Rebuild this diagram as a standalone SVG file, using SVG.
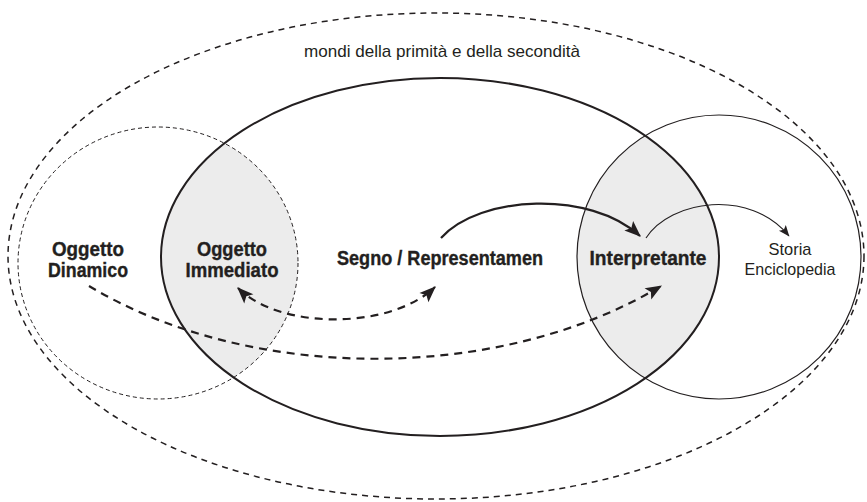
<svg xmlns="http://www.w3.org/2000/svg" width="867" height="502" viewBox="0 0 867 502">
  <style>
    .line { fill: none; stroke: #231f20; }
    .bold { font-family: "Liberation Sans", Arial, sans-serif; font-weight: bold; font-size: 19.5px; fill: #231f20; stroke: #231f20; stroke-width: 0.35; text-anchor: middle; }
    .reg { font-family: "Liberation Sans", Arial, sans-serif; font-size: 17px; fill: #231f20; text-anchor: middle; }
    .dash { fill: none; stroke: #231f20; stroke-width: 2.2; stroke-dasharray: 8 6; }
  </style>
  <defs>
    <clipPath id="clipBig">
      <ellipse cx="440" cy="257" rx="279" ry="179"/>
    </clipPath>
    <marker id="head" markerUnits="userSpaceOnUse" markerWidth="20" markerHeight="20" viewBox="-15 -8 17 16" refX="0" refY="0" orient="auto-start-reverse">
      <path d="M1,0 L-13,-5.5 L-10,0 L-13,5.5 Z" fill="#231f20"/>
    </marker>
    <marker id="headSmall" markerUnits="userSpaceOnUse" markerWidth="14" markerHeight="14" viewBox="-11 -6 12 12" refX="0" refY="0" orient="auto">
      <path d="M0.5,0 L-9,-3.8 L-7,0 L-9,3.8 Z" fill="#231f20"/>
    </marker>
  </defs>
  <rect width="867" height="502" fill="#ffffff"/>

  <g id="lens-shading" clip-path="url(#clipBig)">
    <ellipse cx="158" cy="263" rx="140" ry="136" fill="#ececec"/>
    <ellipse cx="719" cy="257" rx="142" ry="142" fill="#ececec"/>
  </g>

  <g id="mondi">
    <ellipse class="line" cx="436" cy="256" rx="428" ry="243" stroke-width="1.5" stroke-dasharray="6 5"/>
    <text class="reg" x="442" y="57" textLength="276" lengthAdjust="spacingAndGlyphs">mondi della primità e della secondità</text>
  </g>

  <g id="oggetto-dinamico">
    <ellipse class="line" cx="158" cy="263" rx="140" ry="136" stroke-width="1" stroke-dasharray="4 3"/>
    <text class="bold" x="88" y="256" textLength="72" lengthAdjust="spacingAndGlyphs">Oggetto</text>
    <text class="bold" x="88" y="277" textLength="80" lengthAdjust="spacingAndGlyphs">Dinamico</text>
  </g>

  <g id="segno">
    <ellipse class="line" cx="440" cy="257" rx="279" ry="179" stroke-width="2"/>
    <text class="bold" x="440" y="265" textLength="206" lengthAdjust="spacingAndGlyphs">Segno / Representamen</text>
  </g>

  <g id="oggetto-immediato">
    <text class="bold" x="232" y="256" textLength="70" lengthAdjust="spacingAndGlyphs">Oggetto</text>
    <text class="bold" x="232" y="277" textLength="93" lengthAdjust="spacingAndGlyphs">Immediato</text>
  </g>

  <g id="storia-enciclopedia">
    <ellipse class="line" cx="719" cy="257" rx="142" ry="142" stroke-width="1.2"/>
    <text class="reg" x="790" y="255" textLength="43" lengthAdjust="spacingAndGlyphs">Storia</text>
    <text class="reg" x="790" y="275" textLength="91" lengthAdjust="spacingAndGlyphs">Enciclopedia</text>
  </g>

  <g id="interpretante">
    <text class="bold" x="648" y="265" textLength="117" lengthAdjust="spacingAndGlyphs">Interpretante</text>
  </g>

  <g id="connectors">
    <path class="line" stroke-width="2.2" d="M441,238 C480,195 590,190 640,236" marker-end="url(#head)"/>
    <path class="line" stroke-width="1.1" d="M646,238 C670,200 750,188 789,236" marker-end="url(#headSmall)"/>
    <path class="dash" d="M238,288 C280,330 390,330 435,287" marker-start="url(#head)" marker-end="url(#head)"/>
    <path class="dash" d="M89,286 C250,383 500,383 661,286" marker-end="url(#head)"/>
  </g>
</svg>
